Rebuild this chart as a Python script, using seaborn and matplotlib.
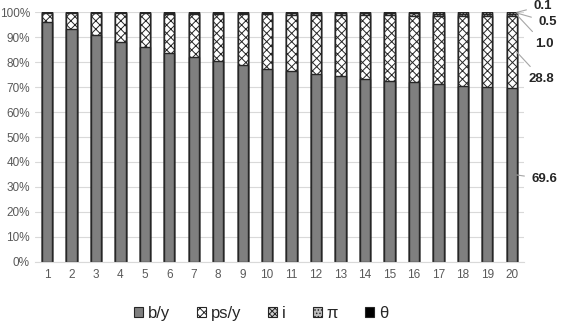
import numpy as np
import pandas as pd
import matplotlib
matplotlib.use("Agg")
import matplotlib.pyplot as plt
from matplotlib.patches import Patch
import seaborn as sns

# data (percent of total, bottom to top)
groups = [str(i) for i in range(1, 21)]
by = [96.0, 93.4, 90.7, 88.2, 86.1, 83.7, 81.9, 80.3, 78.9, 77.4,
      76.3, 75.2, 74.3, 73.4, 72.6, 72.0, 71.2, 70.6, 70.1, 69.6]
psy = [3.83, 6.32, 8.97, 11.36, 13.41, 15.7, 17.45, 18.94, 20.29, 21.68,
       22.73, 23.73, 24.57, 25.37, 26.12, 26.66, 27.36, 27.96, 28.3, 28.8]
ii = [0.1, 0.15, 0.2, 0.25, 0.3, 0.35, 0.4, 0.45, 0.5, 0.55,
      0.6, 0.65, 0.7, 0.75, 0.8, 0.85, 0.9, 0.9, 1.0, 1.0]
pi = [0.05, 0.1, 0.1, 0.15, 0.15, 0.2, 0.2, 0.25, 0.25, 0.3,
      0.3, 0.35, 0.35, 0.4, 0.4, 0.4, 0.45, 0.45, 0.5, 0.5]
theta = [0.02, 0.03, 0.03, 0.04, 0.04, 0.05, 0.05, 0.06, 0.06, 0.07,
         0.07, 0.07, 0.08, 0.08, 0.08, 0.09, 0.09, 0.09, 0.1, 0.1]
series_names = ["b/y", "ps/y", "i", "π", "θ"]
end_labels = ["69.6", "28.8", "1.0", "0.5", "0.1"]

sns.set_style("white")
plt.rcParams["font.family"] = ["Liberation Sans", "DejaVu Sans"]
plt.rcParams["hatch.linewidth"] = 0.7

layers = [by, psy, ii, pi, theta]
styles = [
    dict(color="#7f7f7f", hatch=None),
    dict(color="white", hatch="xxxx"),
    dict(color="#d0d0d0", hatch="xxxxxx"),
    dict(color="#bfbfbf", hatch="....."),
    dict(color="black", hatch=None),
]
cum = np.cumsum(np.array(layers), axis=0)

fig = plt.figure(figsize=(5.61, 3.29), dpi=100)
ax = fig.add_axes([0.062, 0.204, 0.872, 0.759])

# draw from tallest cumulative to shortest so lower layers cover upper ones
for k in range(len(layers) - 1, -1, -1):
    df = pd.DataFrame({"g": groups, "v": cum[k]})
    sns.barplot(data=df, x="g", y="v", ax=ax, width=0.42,
                color=styles[k]["color"], hatch=styles[k]["hatch"],
                edgecolor="#262626", linewidth=1.0, saturation=1)

ax.set_ylim(0, 100)
ax.set_xlim(-0.5, 19.5)
ax.set_yticks(np.arange(0, 101, 10))
ax.set_yticklabels([f"{t}%" for t in range(0, 101, 10)])
ax.yaxis.grid(True, color="#d9d9d9", linewidth=0.8)
ax.set_axisbelow(True)
ax.set_xlabel("")
ax.set_ylabel("")
for s in ["top", "right", "left"]:
    ax.spines[s].set_visible(False)
ax.spines["bottom"].set_color("#d9d9d9")
ax.tick_params(axis="both", length=0, colors="#595959", labelsize=8.5)
ax.tick_params(axis="x", pad=5)

# leader labels for last bar
last = len(groups) - 1
mids = cum[:, last] - np.array([l[last] for l in layers]) / 2
text_y = [33.2, 73.3, 87.3, 96.1, 102.6]
text_x = [1.016, 1.010, 1.022, 1.030, 1.020]
for k in range(len(layers)):
    ax.annotate(end_labels[k], xy=(last + 0.21, mids[k]),
                xytext=(text_x[k], text_y[k]), textcoords=("axes fraction", "data"),
                fontsize=9.5, fontweight="bold", color="#262626", va="center",
                annotation_clip=False,
                arrowprops=dict(arrowstyle="-", color="#a6a6a6", lw=0.8,
                                shrinkA=3, shrinkB=0))

handles = [Patch(facecolor=styles[k]["color"], hatch=styles[k]["hatch"],
                 edgecolor="#262626", linewidth=0.8) for k in range(len(layers))]
fig.legend(handles, series_names, loc="center", bbox_to_anchor=(0.465, 0.048),
           ncol=5, frameon=False, fontsize=12, handlelength=0.55, handleheight=0.55,
           columnspacing=1.6, handletextpad=0.3, labelcolor="#262626")

fig.savefig("out.png", dpi=100)
